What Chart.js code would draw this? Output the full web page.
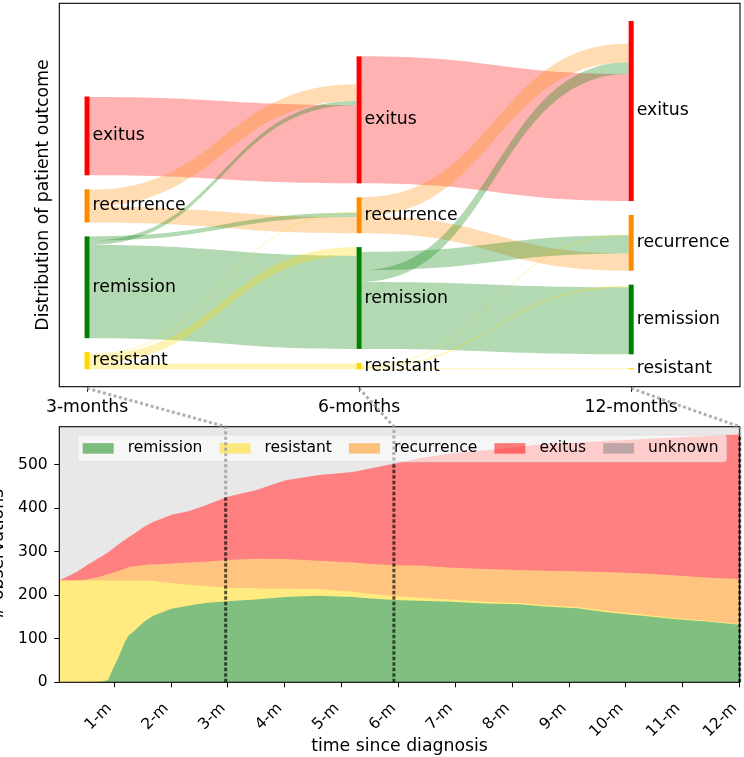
<!DOCTYPE html>
<html lang="en">
<head>
    <meta charset="UTF-8">
    <title>Patient outcome</title>
    <script src="https://cdn.jsdelivr.net/npm/chart.js"></script>
    <style>
        body {
            margin: 0;
            background-color: #fff;
        }
        #wrap {
            position: relative;
            width: 744px;
            height: 757px;
        }
        #wrap canvas {
            position: absolute;
            left: 0;
            top: 0;
        }
    </style>
</head>
<body>
    <div id="wrap">
        <canvas id="flowChart" width="744" height="757"></canvas>
        <canvas id="countChart" width="744" height="757"></canvas>
    </div>

    <script>
        // ---- upper panel: outcome at the three snapshots ----
        const stages = ['3-months', '6-months', '12-months'];
        const outcomes = ['exitus', 'recurrence', 'remission', 'resistant'];
        const nodes3m = [147, 62, 190, 32];
        const nodes6m = [237, 67, 190, 12];
        const nodes12m = [336, 104, 130, 2];

        // transitions between snapshots (same order for both steps)
        const flowFrom = ['exitus', 'recurrence', 'remission', 'resistant', 'remission', 'remission', 'resistant', 'recurrence', 'resistant'];
        const flowTo = ['exitus', 'recurrence', 'remission', 'resistant', 'exitus', 'recurrence', 'remission', 'exitus', 'recurrence'];
        const flows3to6 = [146, 30, 174, 11, 8, 8, 16, 31, 2];
        const flows6to12 = [237, 32, 125, 2, 22, 34, 3, 35, 2];

        // ---- lower panel: observations per day since diagnosis ----
        const days = [1, 10, 17, 24, 27, 30, 33, 36, 38, 42, 46, 51, 56, 61, 70, 79, 91, 106, 122, 140,
                      158, 166, 180, 193, 211, 229, 247, 260, 278, 296, 314, 331, 349, 365];
        const remission = [0, 0, 0, 2, 5, 34, 61, 92, 107, 121, 138, 152, 161, 169, 176, 182, 186, 190, 196, 199,
                           196, 193, 189, 187, 185, 181, 179, 174, 170, 160, 152, 145, 139, 132];
        const resistant = [234, 234, 234, 232, 229, 200, 173, 142, 127, 113, 96, 81, 69, 59, 48, 39, 31, 26, 19, 15,
                           12, 11, 9, 7, 5, 4, 3, 3, 3, 3, 3, 2, 2, 2];
        const recurrence = [0, 0, 3, 10, 14, 18, 22, 27, 30, 33, 35, 38, 41, 45, 51, 56, 64, 68, 68, 65,
                            67, 68, 71, 74, 73, 75, 76, 79, 82, 90, 95, 98, 99, 103];
        const exitus = [0, 19, 35, 46, 50, 56, 62, 66, 69, 77, 87, 97, 105, 112, 118, 129, 145, 157, 181, 197,
                        208, 218, 233, 246, 263, 273, 283, 291, 296, 302, 309, 317, 326, 332];
        const unknown = [353, 334, 315, 297, 289, 279, 269, 260, 254, 243, 231, 219, 211, 202, 194, 181, 161, 146, 123, 111,
                         104, 97, 85, 73, 61, 54, 46, 40, 36, 32, 28, 25, 21, 18];

        const monthTicks = [30.42, 60.83, 91.25, 121.67, 152.08, 182.5, 212.92, 243.33, 273.75, 304.17, 334.58, 365];
        const monthLabels = ['1-m', '2-m', '3-m', '4-m', '5-m', '6-m', '7-m', '8-m', '9-m', '10-m', '11-m', '12-m'];
        const countTicks = [0, 100, 200, 300, 400, 500];
        const totalPatients = 587;

        // snapshot days marked in the lower panel and the observed total there
        const markerDays = [90, 180, 365];
        const markerTotals = [426, 502, 569];

        // ---- styles ----
        const FONT = '"DejaVu Sans", sans-serif';
        const nodeColor = { exitus: '#ff0000', recurrence: '#ff8c00', remission: '#008000', resistant: '#ffd700' };
        const flowColor = {
            exitus: 'rgba(255,0,0,0.3)', recurrence: 'rgba(255,140,0,0.3)',
            remission: 'rgba(0,128,0,0.3)', resistant: 'rgba(255,215,0,0.3)'
        };
        const areaColor = {
            remission: '#80bf80', resistant: '#ffeb80', recurrence: '#ffc580',
            exitus: '#ff8080', unknown: '#e8e8e8'
        };
        const patchColor = {
            remission: 'rgba(0,128,0,0.5)', resistant: 'rgba(255,215,0,0.5)', recurrence: 'rgba(255,140,0,0.5)',
            exitus: 'rgba(255,0,0,0.5)', unknown: 'rgba(128,128,128,0.5)'
        };
        const nodeGap = 26;
        const nodeHalf = 2.5;

        function layoutColumn(values) {
            // stack from the bottom: resistant first, exitus on top
            const pos = {};
            let y = 0;
            for (let i = outcomes.length - 1; i >= 0; i--) {
                pos[outcomes[i]] = { lo: y, hi: y + values[i] };
                y += values[i] + nodeGap;
            }
            return pos;
        }

        function frame(ctx, area) {
            ctx.save();
            ctx.strokeStyle = '#000';
            ctx.lineWidth = 1.1;
            ctx.strokeRect(area.left, area.top, area.right - area.left, area.bottom - area.top);
            ctx.restore();
        }

        const sankeyPlugin = {
            id: 'sankey',
            beforeDatasetsDraw(chart) {
                const { ctx, scales: { x, y } } = chart;
                const cols = [nodes3m, nodes6m, nodes12m].map(layoutColumn);
                ctx.save();

                [flows3to6, flows6to12].forEach((vals, k) => {
                    const a = cols[k], b = cols[k + 1];
                    const x0 = x.getPixelForValue(k) + nodeHalf;
                    const x1 = x.getPixelForValue(k + 1) - nodeHalf;
                    const xm = (x0 + x1) / 2;
                    const outUsed = {}, inUsed = {};
                    vals.forEach((v, i) => {
                        const src = flowFrom[i], dst = flowTo[i];
                        const s = a[src].lo + (outUsed[src] || 0);
                        const t = b[dst].lo + (inUsed[dst] || 0);
                        outUsed[src] = (outUsed[src] || 0) + v;
                        inUsed[dst] = (inUsed[dst] || 0) + v;
                        const sTop = y.getPixelForValue(s + v), sBot = y.getPixelForValue(s);
                        const tTop = y.getPixelForValue(t + v), tBot = y.getPixelForValue(t);
                        ctx.beginPath();
                        ctx.moveTo(x0, sTop);
                        ctx.bezierCurveTo(xm, sTop, xm, tTop, x1, tTop);
                        ctx.lineTo(x1, tBot);
                        ctx.bezierCurveTo(xm, tBot, xm, sBot, x0, sBot);
                        ctx.closePath();
                        ctx.fillStyle = flowColor[src];
                        ctx.fill();
                    });
                });

                ctx.font = '17.3px ' + FONT;
                ctx.textBaseline = 'middle';
                ctx.textAlign = 'left';
                cols.forEach((col, k) => {
                    const cx = x.getPixelForValue(k);
                    outcomes.forEach(name => {
                        const top = y.getPixelForValue(col[name].hi);
                        const bot = y.getPixelForValue(col[name].lo);
                        ctx.fillStyle = nodeColor[name];
                        ctx.fillRect(cx - nodeHalf, top, nodeHalf * 2, Math.max(bot - top, 1.2));
                        ctx.fillStyle = '#000';
                        ctx.fillText(name, cx + nodeHalf + 3, (top + bot) / 2);
                    });
                });
                ctx.restore();
            },
            afterDraw(chart) {
                frame(chart.ctx, chart.chartArea);
            }
        };

        const flowChart = new Chart(document.getElementById('flowChart'), {
            type: 'scatter',
            data: { datasets: [] },
            plugins: [sankeyPlugin],
            options: {
                responsive: false,
                animation: false,
                events: [],
                layout: { padding: { top: 3.3, left: 0, right: 4, bottom: 330.3 } },
                plugins: { legend: { display: false }, tooltip: { enabled: false } },
                scales: {
                    x: {
                        type: 'linear',
                        min: -0.102,
                        max: 2.4,
                        afterBuildTicks: scale => { scale.ticks = stages.map((s, i) => ({ value: i })); },
                        afterFit: scale => { scale.height = 40; scale.paddingLeft = 0; scale.paddingRight = 0; },
                        ticks: {
                            callback: (value, index) => stages[index],
                            color: '#000',
                            padding: 5,
                            maxRotation: 0,
                            autoSkip: false,
                            font: { family: FONT, size: 17.3 }
                        },
                        grid: { display: true, drawOnChartArea: false, drawTicks: true, tickLength: 5, color: '#000' },
                        border: { display: false }
                    },
                    y: {
                        type: 'linear',
                        min: -32.5,
                        max: 683,
                        afterFit: scale => { scale.width = 59.3; scale.paddingTop = 0; scale.paddingBottom = 0; },
                        ticks: { display: false },
                        grid: { display: false },
                        border: { display: false },
                        title: {
                            display: true,
                            text: 'Distribution of patient outcome',
                            color: '#000',
                            padding: { top: 33, bottom: 0 },
                            font: { family: FONT, size: 17.3 }
                        }
                    }
                }
            }
        });

        function drawLegend(chart) {
            const { ctx, chartArea } = chart;
            ctx.save();
            ctx.font = '15.5px ' + FONT;
            const left = chartArea.left + 18.4;
            const top = chartArea.top + 8.3;
            const h = 26.7;
            let x = left + 5;
            const items = chart.data.datasets.map(ds => {
                const item = { label: ds.label, px: x, tx: x + 45 };
                x = item.tx + ctx.measureText(ds.label).width + 17;
                return item;
            });
            const right = x - 17 + 7.7;

            const r = 3;
            ctx.beginPath();
            ctx.moveTo(left + r, top);
            ctx.arcTo(right, top, right, top + h, r);
            ctx.arcTo(right, top + h, left, top + h, r);
            ctx.arcTo(left, top + h, left, top, r);
            ctx.arcTo(left, top, right, top, r);
            ctx.closePath();
            ctx.fillStyle = 'rgba(255,255,255,0.6)';
            ctx.fill();
            ctx.strokeStyle = 'rgba(220,220,220,0.8)';
            ctx.lineWidth = 1;
            ctx.stroke();

            const cy = top + h / 2;
            ctx.textBaseline = 'middle';
            ctx.textAlign = 'left';
            items.forEach(item => {
                ctx.fillStyle = patchColor[item.label];
                ctx.fillRect(item.px, cy - 5.2, 31, 10.5);
                ctx.fillStyle = '#000';
                ctx.fillText(item.label, item.tx, cy);
            });
            ctx.restore();
        }

        const markerPlugin = {
            id: 'markers',
            afterDatasetsDraw(chart) {
                const { ctx, scales: { x, y } } = chart;
                ctx.save();
                ctx.strokeStyle = 'rgba(0,0,0,0.65)';
                ctx.lineWidth = 3;
                ctx.setLineDash([3.5, 2]);
                markerDays.forEach((d, i) => {
                    const px = x.getPixelForValue(d);
                    ctx.beginPath();
                    ctx.moveTo(px, y.getPixelForValue(0));
                    ctx.lineTo(px, y.getPixelForValue(markerTotals[i]));
                    ctx.stroke();
                });
                ctx.restore();
            },
            afterDraw(chart) {
                const { ctx, chartArea, scales: { x, y } } = chart;
                drawLegend(chart);
                frame(ctx, chartArea);

                // dotted links from each snapshot tick of the upper panel
                const fx = flowChart.scales.x;
                const fBottom = flowChart.chartArea.bottom;
                ctx.save();
                ctx.strokeStyle = 'rgba(150,150,150,0.75)';
                ctx.lineWidth = 3;
                ctx.setLineDash([3, 2.5]);
                markerDays.forEach((d, i) => {
                    const px = x.getPixelForValue(d);
                    ctx.beginPath();
                    ctx.moveTo(fx.getPixelForValue(i), fBottom + 1.6);
                    ctx.lineTo(px, chartArea.top);
                    ctx.lineTo(px, y.getPixelForValue(markerTotals[i]));
                    ctx.stroke();
                });
                ctx.restore();
            }
        };

        const series = [
            { label: 'remission', values: remission },
            { label: 'resistant', values: resistant },
            { label: 'recurrence', values: recurrence },
            { label: 'exitus', values: exitus },
            { label: 'unknown', values: unknown }
        ];

        const countChart = new Chart(document.getElementById('countChart'), {
            type: 'line',
            data: {
                datasets: series.map(s => ({
                    label: s.label,
                    data: days.map((d, i) => ({ x: d, y: s.values[i] })),
                    backgroundColor: areaColor[s.label],
                    borderColor: 'rgba(0,0,0,0)',
                    borderWidth: 0,
                    pointRadius: 0,
                    tension: 0,
                    fill: 'origin'
                }))
            },
            plugins: [markerPlugin],
            options: {
                responsive: false,
                animation: false,
                events: [],
                layout: { padding: { top: 426.7, left: 0, right: 4.3, bottom: 0 } },
                plugins: { legend: { display: false }, tooltip: { enabled: false } },
                scales: {
                    x: {
                        type: 'linear',
                        min: 1,
                        max: 365,
                        afterBuildTicks: scale => { scale.ticks = monthTicks.map(v => ({ value: v })); },
                        afterFit: scale => { scale.height = 74.7; scale.paddingLeft = 0; scale.paddingRight = 0; },
                        ticks: {
                            callback: (value, index) => monthLabels[index],
                            color: '#000',
                            autoSkip: false,
                            minRotation: 45,
                            maxRotation: 45,
                            labelOffset: -5,
                            padding: 12,
                            font: { family: FONT, size: 15.5 }
                        },
                        grid: { display: true, drawOnChartArea: false, drawTicks: true, tickLength: 5, color: '#000' },
                        border: { display: false },
                        title: {
                            display: true,
                            text: 'time since diagnosis',
                            color: '#000',
                            padding: { top: 0, bottom: 0 },
                            font: { family: FONT, size: 17.3 }
                        }
                    },
                    y: {
                        type: 'linear',
                        stacked: true,
                        min: 0,
                        max: totalPatients,
                        afterBuildTicks: scale => { scale.ticks = countTicks.map(v => ({ value: v })); },
                        afterFit: scale => { scale.width = 59.3; scale.paddingTop = 0; scale.paddingBottom = 0; },
                        ticks: {
                            color: '#000',
                            padding: 6.6,
                            font: { family: FONT, size: 15.5 }
                        },
                        grid: { display: true, drawOnChartArea: false, drawTicks: true, tickLength: 5, color: '#000' },
                        border: { display: false },
                        title: {
                            display: true,
                            text: '# observations',
                            color: '#000',
                            padding: { top: -11.4, bottom: 0 },
                            font: { family: FONT, size: 17.3 }
                        }
                    }
                }
            }
        });
    </script>
</body>
</html>
